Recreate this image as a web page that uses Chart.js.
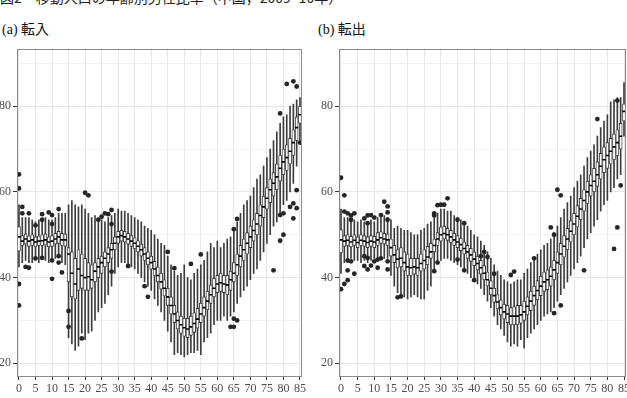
<!DOCTYPE html>
<html lang="ja">
<head>
<meta charset="utf-8">
<script src="https://cdn.jsdelivr.net/npm/chart.js@4.4.1/dist/chart.umd.min.js"></script>
<style>
  html, body { margin: 0; padding: 0; background: #fff; }
  body { width: 627px; height: 398px; position: relative; overflow: hidden; font-family: "Liberation Serif", "Noto Sans CJK JP", serif; }
  .caption { position: absolute; left: 0; top: -13px; font-size: 14px; white-space: nowrap; font-family: "Noto Sans CJK JP", sans-serif; color: #222; }
  .ptitle { position: absolute; top: 18px; font-size: 14px; color: #111; white-space: nowrap; }
  .wrap { position: absolute; top: 40px; height: 358px; }
  #wrapA { left: -5px; width: 313px; }
  #wrapB { left: 317px; width: 320px; }
</style>
</head>
<body>
<div class="caption">図2　移動人口の年齢別男性比率（中国，2009−10年）</div>
<div class="ptitle" style="left:2px">(a) 転入</div>
<div class="ptitle" style="left:318px">(b) 転出</div>
<div class="wrap" id="wrapA"><canvas id="chartA"></canvas></div>
<div class="wrap" id="wrapB"><canvas id="chartB"></canvas></div>
<script>
// 年齢 0..85
const ages = Array.from({ length: 86 }, (_, i) => i);
const xTicks = [0, 5, 10, 15, 20, 25, 30, 35, 40, 45, 50, 55, 60, 65, 70, 75, 80, 85];
const yMajor = [20, 40, 60, 80];
const yMinor = [30, 50, 70, 90];

// (a) 転入
const medA = [49.5,48.5,49,48.5,48.8,48.3,48.5,48.6,48.8,48.3,48.5,49,49.5,48.8,48.8,
  45.5,41,38.5,42,40.5,40,40.2,39.5,41.5,42.5,43.5,44.5,45.5,46.5,48,
  49.5,49.8,49.5,49,48.5,48,47.3,46.5,45.5,44.5,43.5,42,40.5,39,37.5,
  35.5,33.5,31.5,30,29,28.3,28,28.5,29.3,30.3,31.5,33,34.5,36,37.5,
  38.5,38.8,38.5,38.3,39.5,41,43,45,46.5,48,49.5,51,52.5,54.5,56.5,
  58.5,60.5,62,63.5,65.5,67,68,69.5,71.5,75,78];
const q1A = [46.2,47.5,47.8,47.3,47.5,47.2,47.5,47.5,47.6,47.2,47.3,47.8,48,47.5,47.3,
  39,35.5,35,37,37.5,37,37,37.5,39,40,41,42.5,43.5,44.5,46.5,
  48,48.5,48.3,47.8,47.3,46.8,46,45,44,43,42,40.5,39,37.3,35.7,
  33.5,31.5,29.5,28,27,26.3,26,26.5,27.2,28.2,29.5,31,32.5,34,35.5,
  36.5,36.8,36.5,36,37,39,40.5,42.5,44,45.5,47,48.5,50,52,54,
  56,57.5,59,60.5,62.5,64,65,66.5,68.5,72,76];
const q3A = [51.9,49.8,50.2,49.7,50,49.5,49.7,50,50.2,49.5,49.8,50.3,50.8,50.3,50.2,
  47,46,44.5,46.5,45.5,44.5,43.5,43,43.5,44.5,45,46,47,48,49.5,
  50.8,51,50.8,50.3,49.8,49.3,48.6,47.8,47,46,45,43.8,42.5,41,39.5,
  37.5,35.5,33.5,32,31,30.5,30.5,31,31.8,32.8,34,35.5,36.8,38.3,39.8,
  40.5,41,40.5,40.5,41.5,43.5,45.5,47.5,49,50.5,52,53.5,55,57,59,
  61,63,64.5,66.5,68.5,70,71,72.5,74.5,77.5,80];
const loA = [42.5,43.5,44,43.5,43.5,44,43.5,44.5,44,43.5,44.5,44.5,45.5,43.5,43,
  26,24.5,23,24,27,25.5,27,27.5,30,32,33,34,36,38,41,
  42.5,43.5,43.5,43,42.5,42,41,40,39,38,37,35,33.5,32,30,
  27.5,25,22,22.5,22,21.5,22,22.5,22.5,23,22,25,26,27,29,
  30,30,31,30,31,32,34,35.5,37,38,39.5,41,42,44,46,
  48,50,52,53,55,57,58,60,62,66,72];
const hiA = [57,54,54,54,53.5,53,53.5,53,54,53.5,53.5,54,55,55,55,
  57,58,57,56.5,57,56,55,54,54.5,53,53.5,53,54,54.5,55,
  56,55.5,55.5,55,54.5,54,53.5,53,52,51.5,51,50,49,48,47.5,
  45,43,41.5,40.5,41,43,40,39.5,41,42,43,44,46,48,47,
  48.5,47,48,49,49.5,51,53,55,57,58,59,61,63,64,66,
  68,70,72,74,76,77.5,78,80,80.5,81.5,82];
const outA = [[0,64.1],[0,60.8],[0,38.5],[0,33.5],[1,56.5],[1,55],[3,55],[2,42.5],[3,42.3],
  [5,52.2],[5,44.5],[7,54.8],[7,53.5],[7,44.6],[9,55.2],[10,54.6],[10,52.5],[10,44],[10,39.7],
  [12,56],[12,45],[12,43.5],[13,41.2],[15,32.2],[15,28.5],[19,25.8],[20,59.8],[21,59.2],
  [24,53.5],[25,54.2],[26,55],[27,54.8],[28,55.8],[28,52.5],[28,41.4],[33,42.7],[38,38],[39,35.5],
  [45,46],[47,42.2],[52,43.2],[55,45.4],[64,28.5],[65,28.5],[65,30.4],[66,30],[65,51.3],[66,53.7],
  [77,41.7],[79,48.6],[80,50],[79,54.6],[80,55],[79,78.3],[81,85.2],[83,85.8],[84,84.6],[85,71.5],
  [82,56.5],[83,57.3],[84,60.4],[83,53.8],[84,56.2]];

// (b) 転出
const medB = [48.8,48.5,48.7,48.3,48.7,48.2,48.7,48.5,48.2,48.5,48.3,48.8,49.3,49,48.8,
  47,45.3,44.3,44.5,43.5,42.5,42.3,42.5,42.3,43.3,44,44.8,46,47.5,49,
  50,50.3,50,49.5,48.8,48.3,47.7,46.8,46,45.3,44.3,43.3,42.3,41,39.5,
  37.5,35.8,34.3,33,32,31.5,31,31,31,31.3,32,33.3,34.5,35.8,37,
  38,39,39.5,40.3,41.8,43.5,45.5,47.3,49,50.8,52.5,54.3,56,58,60,
  61.5,62.5,64,66,67.5,68.5,69.5,70.5,71.5,73,78.8];
const q1B = [45.8,47.3,47.5,47.2,47.5,47,47.5,47.3,47,47.3,47,47.5,48,47.8,47.5,
  45,43.5,42.3,42.5,41.5,40.5,40.5,40.8,40.5,41.5,42,43,44.5,46,47.5,
  48.5,49,48.7,48.2,47.5,47,46.3,45.5,44.5,43.8,42.8,41.8,40.8,39.5,38,
  36,34.2,32.7,31.3,30.3,29.5,29,29,29,29.3,30,31.3,32.3,33.5,34.8,
  35.8,36.8,37.2,38,39.5,41,43,44.8,46.5,48.3,50,51.8,53.5,55.5,57.3,
  59,60,61.3,63,64.5,65.5,66.5,67.5,68.5,70,76.5];
const q3B = [51.2,49.8,50,49.6,50,49.5,50,49.8,49.5,49.8,49.6,50.5,50.7,50.3,50.2,
  49,47.5,46.5,47,46,45.5,44.5,44.5,44.5,45.5,46.5,47.3,48,49,50.5,
  51.8,52,51.5,51,50.3,49.8,49.2,48.3,47.5,46.8,46,45,44,42.8,41.3,
  39.3,37.5,36,34.8,33.8,33.5,33,33.2,33.5,33.5,34.5,35.5,36.8,38,39.3,
  40.3,41.3,41.8,42.5,44,46,48,49.8,51.5,53.3,55,56.8,58.5,60.5,62.5,
  64,65.5,67,69,70.5,71.5,72.5,73.5,74.5,76,80.5];
const loB = [41,43.5,43.5,44.5,44,44,43.5,44,43.5,44,44.5,44.5,44.5,44.5,44.5,
  40.5,38,36.5,36,35.5,35,35.5,36,35.5,35,35,37,38,41.5,43.5,
  44,44.5,44.5,44,43.5,43,42.5,42,41,40,39.5,38.5,37.5,36,34.5,
  33,31,29,28,26.5,25,24,24.5,24,25.5,23.5,26,27,28,29,
  30,31,31.5,32,33,34.5,36,37.5,39,40.5,42,43.5,45,47,49,
  50.5,52,53.5,55.5,57,58,60,61,63,64,73];
const hiB = [56,54,54,53,53.5,53,53.5,53,52.5,53.5,53,54,54.5,54.5,54,
  53.5,51.5,52,51.5,51,51,50.5,50,50,51,51.5,52.5,53,54,55,
  56,56,55.5,55.5,54.5,54,53.5,52.5,52,51,50,49.5,48.5,47.5,46,
  44.5,43,41.5,40.5,39.5,39,38.5,39,39.5,39.5,41,42,43.5,44.5,45.5,
  46.5,47.5,48,49,50.5,52,54,56,57.5,59,61,62.5,64,66,68,
  69.5,71,73,75,76.5,78,81,81.5,82,82,85.5];
const outB = [[0,63.3],[1,59.2],[1,55.4],[2,55],[3,54.5],[4,55],[3,53.5],[0,37.3],[1,38.5],[2,39.4],
  [2,41.7],[4,40.9],[3,43.8],[2,44],[7,53.8],[8,54.5],[9,54.6],[10,54],[8,52.7],[12,54.6],[13,57.7],
  [14,56.6],[14,55.2],[14,53.5],[7,45],[8,44.6],[7,42.7],[8,41.9],[9,42.8],[10,43.8],[11,44.2],
  [12,44.5],[11,42.3],[14,43.8],[14,41.9],[17,35.4],[18,35.6],[28,55],[28,54.5],[29,56.9],[30,57],
  [31,57],[32,58.5],[28,41.5],[29,43.5],[35,44.2],[37,41.7],[35,53.5],[37,52.7],[40,39.4],[42,45],
  [43,46],[44,44.8],[46,40.9],[51,40.6],[52,41.4],[58,44.5],[63,51.7],[64,50],[64,31.7],[66,33.5],
  [73,41.7],[82,46.7],[83,51.7],[65,60.5],[66,59.2],[77,77],[83,81.3],[84,61.5]];

// パネルの枠線
const panelBorder = {
  id: 'panelBorder',
  afterDraw(chart) {
    const a = chart.chartArea, c = chart.ctx;
    c.save();
    c.strokeStyle = '#8a8a8a';
    c.lineWidth = 1;
    c.strokeRect(Math.round(a.left) + 0.5, Math.round(a.top) + 0.5, Math.round(a.right - a.left) - 1, Math.round(a.bottom - a.top) - 1);
    c.restore();
  }
};

function boxChart(id, med, q1, q3, lo, hi, out, padRight) {
  const ctx = document.getElementById(id).getContext('2d');
  return new Chart(ctx, {
    type: 'bar',
    data: {
      datasets: [
        { // ひげ
          data: ages.map(a => ({ x: a, y: [lo[a], hi[a]] })),
          backgroundColor: '#3d3d3d', barThickness: 1, grouped: false, order: 4
        },
        { // 箱
          data: ages.map(a => ({ x: a, y: [q1[a], q3[a]] })),
          backgroundColor: '#ffffff', borderColor: '#333', borderWidth: 0.9,
          borderSkipped: false, barThickness: 3, grouped: false, order: 3
        },
        { // 中央値
          type: 'scatter',
          data: ages.map(a => ({ x: a, y: med[a] })),
          pointStyle: 'line', pointRadius: 1.6, borderColor: '#000', borderWidth: 1.6, order: 2
        },
        { // 外れ値
          type: 'scatter',
          data: out.map(p => ({ x: p[0], y: p[1] })),
          pointRadius: 2.4, backgroundColor: '#262626', borderWidth: 0, order: 1
        }
      ]
    },
    options: {
      responsive: true,
      maintainAspectRatio: false,
      animation: false,
      events: [],
      layout: { padding: { top: 5, right: padRight, left: 0, bottom: 0 } },
      plugins: { legend: { display: false }, tooltip: { enabled: false } },
      scales: {
        x: {
          type: 'linear', min: -0.6, max: 85.6, offset: false,
          afterBuildTicks: axis => { axis.ticks = xTicks.map(v => ({ value: v })); },
          afterFit: axis => { axis.height = 21; },
          grid: { color: '#e6e6e6', lineWidth: 1, offset: false, drawTicks: true, tickLength: 3, tickColor: '#333' },
          border: { display: false },
          ticks: { autoSkip: false, maxRotation: 0, padding: 2, color: '#4d4d4d', font: { family: 'Liberation Serif', size: 12 } }
        },
        y: {
          type: 'linear', min: 16.8, max: 93.3,
          afterBuildTicks: axis => { axis.ticks = yMajor.concat(yMinor).map(v => ({ value: v })); },
          afterFit: axis => { axis.width = 22; },
          grid: {
            color: c => yMinor.includes(c.tick.value) ? '#f1f1f1' : '#e6e6e6',
            lineWidth: 1, drawTicks: true, tickLength: 4,
            tickColor: c => yMinor.includes(c.tick.value) ? 'rgba(0,0,0,0)' : '#333'
          },
          border: { display: false },
          ticks: {
            padding: 2, color: '#4d4d4d', font: { family: 'Liberation Serif', size: 12 },
            callback: v => yMajor.includes(v) ? String(v) : ''
          }
        }
      }
    },
    plugins: [panelBorder]
  });
}

boxChart('chartA', medA, q1A, q3A, loA, hiA, outA, 4);
boxChart('chartB', medB, q1B, q3B, loB, hiB, outB, 11);
</script>
</body>
</html>
